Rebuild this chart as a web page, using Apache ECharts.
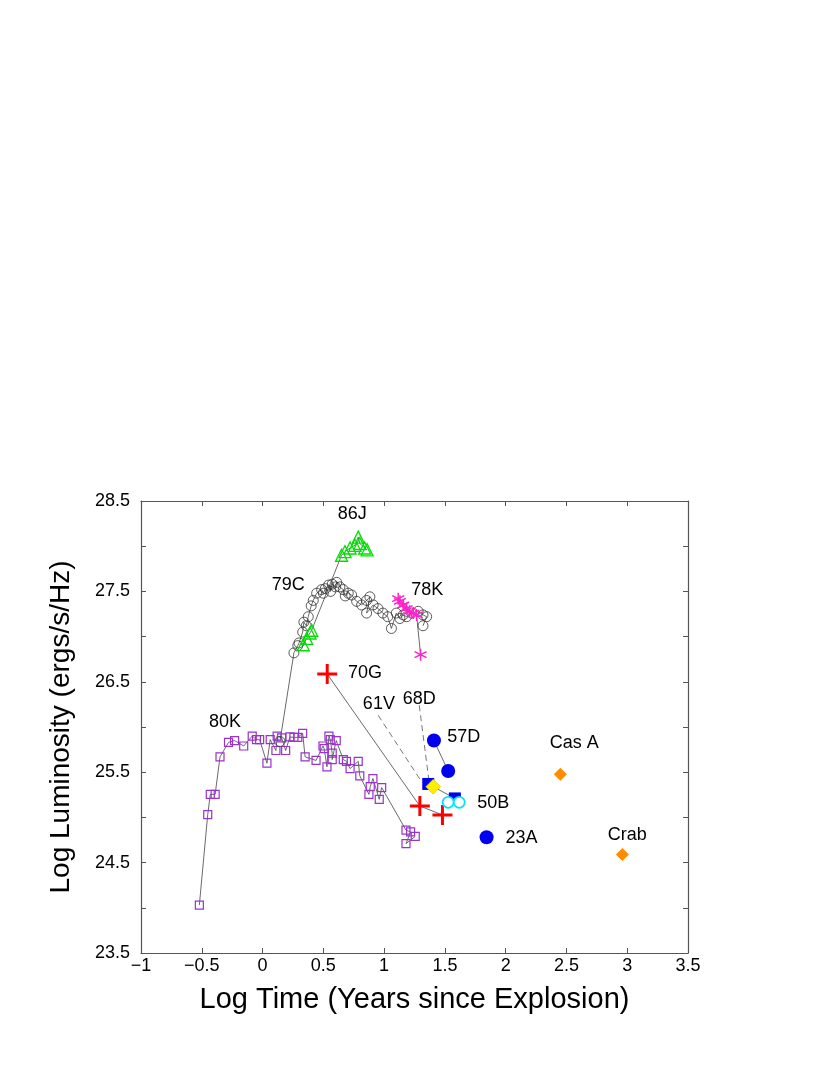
<!DOCTYPE html>
<html>
<head>
<meta charset="utf-8">
<script src="https://cdn.jsdelivr.net/npm/echarts@6/dist/echarts.min.js"></script>
<style>
  html, body { margin: 0; padding: 0; background: #fff; }
  #chart { width: 830px; height: 1075px; }
</style>
</head>
<body>
<div id="chart"></div>
<script>
// SN 1980K - open purple squares
const sn80kX = [-0.52, -0.451, -0.43, -0.39, -0.35, -0.28, -0.23, -0.155, -0.085, -0.05, -0.024, 0.036, 0.063, 0.11, 0.12, 0.157, 0.19, 0.225, 0.258, 0.29, 0.33, 0.35, 0.44, 0.497, 0.507, 0.53, 0.546, 0.557, 0.573, 0.573, 0.606, 0.664, 0.69, 0.72, 0.787, 0.80, 0.875, 0.886, 0.908, 0.96, 0.98, 1.18, 1.218, 1.18, 1.256]
const sn80kY = [24.03, 25.03, 25.255, 25.255, 25.67, 25.83, 25.85, 25.79, 25.90, 25.86, 25.86, 25.60, 25.86, 25.74, 25.90, 25.88, 25.74, 25.89, 25.885, 25.885, 25.93, 25.67, 25.63, 25.79, 25.76, 25.56, 25.90, 25.86, 25.71, 25.64, 25.85, 25.64, 25.62, 25.54, 25.62, 25.46, 25.255, 25.34, 25.43, 25.20, 25.33, 24.86, 24.84, 24.71, 24.79]

// SN 1979C - open black circles
const sn79cX = [0.143, 0.258, 0.29, 0.30, 0.33, 0.34, 0.36, 0.376, 0.40, 0.417, 0.445, 0.486, 0.50, 0.516, 0.543, 0.56, 0.573, 0.60, 0.61, 0.636, 0.664, 0.68, 0.705, 0.733, 0.774, 0.815, 0.856, 0.883, 0.856, 0.91, 0.95, 0.99, 1.03, 1.06, 1.10, 1.13, 1.157, 1.185, 1.226, 1.28, 1.32, 1.35, 1.32]
const sn79cY = [25.84, 26.82, 26.90, 26.93, 27.05, 27.16, 27.12, 27.22, 27.34, 27.40, 27.48, 27.52, 27.48, 27.53, 27.57, 27.50, 27.58, 27.55, 27.60, 27.55, 27.52, 27.45, 27.48, 27.46, 27.39, 27.35, 27.40, 27.44, 27.26, 27.35, 27.31, 27.26, 27.22, 27.09, 27.26, 27.20, 27.24, 27.22, 27.26, 27.28, 27.24, 27.22, 27.12]

// SN 1986J - open green triangles
const sn86jX = [0.335, 0.363, 0.39, 0.404, 0.65, 0.678, 0.72, 0.76, 0.787, 0.80, 0.84, 0.86]
const sn86jY = [26.91, 26.98, 27.04, 27.07, 27.90, 27.94, 27.98, 28.01, 28.10, 28.03, 27.98, 27.96]

// SN 1978K - magenta asterisks
const sn78kX = [1.116, 1.13, 1.157, 1.185, 1.21, 1.24, 1.267, 1.30]
const sn78kY = [27.42, 27.39, 27.35, 27.31, 27.28, 27.26, 27.24, 26.80]

// SN 1970G - red crosses
const sn70gX = [0.532, 1.294, 1.48]
const sn70gY = [26.586, 25.126, 25.027]

// SN 1961V - filled blue squares
const sn61vX = [1.363, 1.582]
const sn61vY = [25.37, 25.21]

// SN 1968D - yellow diamond
const sn68dX = [1.404]
const sn68dY = [25.34]

// SN 1957D - filled blue circles
const sn57dX = [1.41, 1.527]
const sn57dY = [25.85, 25.513]

// SN 1950B - open cyan circles
const sn50bX = [1.527, 1.618]
const sn50bY = [25.167, 25.167]

// SN 1923A
const sn23aX = [1.843]
const sn23aY = [24.78]

// Galactic remnants - orange diamonds
const remnantX = [2.45, 2.96]
const remnantY = [25.477, 24.59]

// dashed leader lines from labels to points
const leader61vX = [0.951, 1.308]
const leader61vY = [26.13, 25.395]
const leader68dX = [1.289, 1.37]
const leader68dY = [26.24, 25.395]

// text labels
const labelNames = ['86J', '79C', '78K', '70G', '61V', '68D', '57D', '50B', '23A', '80K', 'Cas A', 'Crab']
const labelX = [0.738, 0.211, 1.355, 0.842, 0.957, 1.289, 1.656, 1.897, 2.13, -0.309, 2.565, 3.0]
const labelY = [28.356, 27.57, 27.52, 26.60, 26.255, 26.31, 25.886, 25.155, 24.77, 26.05, 25.82, 24.805]

const zip = (xs, ys) => xs.map((x, i) => [x, ys[i]])

const chart = echarts.init(document.getElementById('chart'))

const FONT = 'Liberation Sans, Arial, Helvetica, sans-serif'
const AXIS_COLOR = '#555'
const LINK = { color: '#444', width: 0.8 }
const asterisk = 'path://M0,-10L0,10M-8.66,-5L8.66,5M-8.66,5L8.66,-5'
const cross = 'path://M-10,0L10,0M0,-10L0,10'

const connected = (name, xs, ys, symbol, size, item) => ({
  name,
  type: 'line',
  data: zip(xs, ys),
  symbol,
  symbolSize: size,
  showSymbol: true,
  lineStyle: LINK,
  itemStyle: Object.assign({ opacity: 1 }, item),
  z: 3,
  animation: false,
})

const points = (name, xs, ys, symbol, size, item) => ({
  name,
  type: 'scatter',
  data: zip(xs, ys),
  symbol,
  symbolSize: size,
  itemStyle: Object.assign({ opacity: 1 }, item),
  z: 4,
  animation: false,
})

const leader = (xs, ys) => ({
  type: 'line',
  data: zip(xs, ys),
  symbol: 'none',
  lineStyle: { color: '#555', width: 0.8, type: [6, 4] },
  z: 2,
  animation: false,
})

chart.setOption({
  backgroundColor: '#fff',
  textStyle: { fontFamily: FONT },
  grid: { left: 141, right: 142, top: 501, bottom: 122 },
  xAxis: [
    {
      type: 'value',
      min: -1,
      max: 3.5,
      interval: 0.5,
      name: 'Log Time (Years since Explosion)',
      nameLocation: 'middle',
      nameGap: 32,
      nameTextStyle: { fontSize: 29, color: '#000', fontFamily: FONT },
      axisLine: { show: true, onZero: false, lineStyle: { color: AXIS_COLOR, width: 1.2 } },
      axisTick: { show: true, inside: true, length: 5, lineStyle: { color: AXIS_COLOR } },
      axisLabel: {
        fontSize: 18,
        color: '#000',
        margin: 4,
        fontFamily: FONT,
        formatter: v => String(v).replace('-', '\u2212'),
      },
      splitLine: { show: false },
    },
    {
      type: 'value',
      position: 'top',
      min: -1,
      max: 3.5,
      interval: 0.5,
      axisLine: { show: true, onZero: false, lineStyle: { color: AXIS_COLOR, width: 1.2 } },
      axisTick: { show: true, inside: true, length: 5, lineStyle: { color: AXIS_COLOR } },
      axisLabel: { show: false },
      splitLine: { show: false },
    },
  ],
  yAxis: [
    {
      type: 'value',
      min: 23.5,
      max: 28.5,
      interval: 0.5,
      name: 'Log Luminosity (ergs/s/Hz)',
      nameLocation: 'middle',
      nameRotate: 90,
      nameGap: 66,
      nameTextStyle: { fontSize: 28, color: '#000', fontFamily: FONT },
      axisLine: { show: true, onZero: false, lineStyle: { color: AXIS_COLOR, width: 1.2 } },
      axisTick: { show: true, inside: true, length: 5, lineStyle: { color: AXIS_COLOR } },
      axisLabel: {
        fontSize: 18,
        color: '#000',
        margin: 11,
        fontFamily: FONT,
        formatter: v => (Math.abs((v - 23.5) % 1) < 1e-6 ? v.toFixed(1) : ''),
      },
      splitLine: { show: false },
    },
    {
      type: 'value',
      position: 'right',
      min: 23.5,
      max: 28.5,
      interval: 0.5,
      axisLine: { show: true, onZero: false, lineStyle: { color: AXIS_COLOR, width: 1.2 } },
      axisTick: { show: true, inside: true, length: 5, lineStyle: { color: AXIS_COLOR } },
      axisLabel: { show: false },
      splitLine: { show: false },
    },
  ],
  series: [
    leader(leader61vX, leader61vY),
    leader(leader68dX, leader68dY),
    connected('80K', sn80kX, sn80kY, 'rect', 8,
      { color: 'rgba(0,0,0,0)', borderColor: '#9a32cd', borderWidth: 1.2 }),
    connected('79C', sn79cX, sn79cY, 'circle', 10,
      { color: 'rgba(0,0,0,0)', borderColor: '#333', borderWidth: 0.8 }),
    connected('86J', sn86jX, sn86jY, 'triangle', 12,
      { color: 'rgba(0,0,0,0)', borderColor: '#00e000', borderWidth: 1.3 }),
    connected('78K', sn78kX, sn78kY, asterisk, 12,
      { color: 'rgba(0,0,0,0)', borderColor: '#ff22cc', borderWidth: 1.5 }),
    connected('70G', sn70gX, sn70gY, cross, 20,
      { color: 'rgba(0,0,0,0)', borderColor: '#ff0000', borderWidth: 3 }),
    connected('61V', sn61vX, sn61vY, 'rect', 12, { color: '#0000ee' }),
    connected('57D', sn57dX, sn57dY, 'circle', 14, { color: '#0000ee' }),
    points('68D', sn68dX, sn68dY, 'diamond', 15,
      { color: '#ffee00', borderColor: '#c8b400', borderWidth: 0.5 }),
    points('50B', sn50bX, sn50bY, 'circle', 11,
      { color: '#fff', borderColor: '#00e5ff', borderWidth: 1.8 }),
    points('23A', sn23aX, sn23aY, 'circle', 14, { color: '#0000ee' }),
    points('remnants', remnantX, remnantY, 'diamond', 13, { color: '#ff8c00' }),
    {
      type: 'scatter',
      data: zip(labelX, labelY),
      symbolSize: 0,
      itemStyle: { opacity: 1 },
      z: 5,
      animation: false,
      label: {
        show: true,
        position: 'inside',
        color: '#000',
        opacity: 1,
        textBorderWidth: 0,
        fontSize: 18,
        fontFamily: FONT,
        formatter: p => labelNames[p.dataIndex],
      },
    },
  ],
})
</script>
</body>
</html>
